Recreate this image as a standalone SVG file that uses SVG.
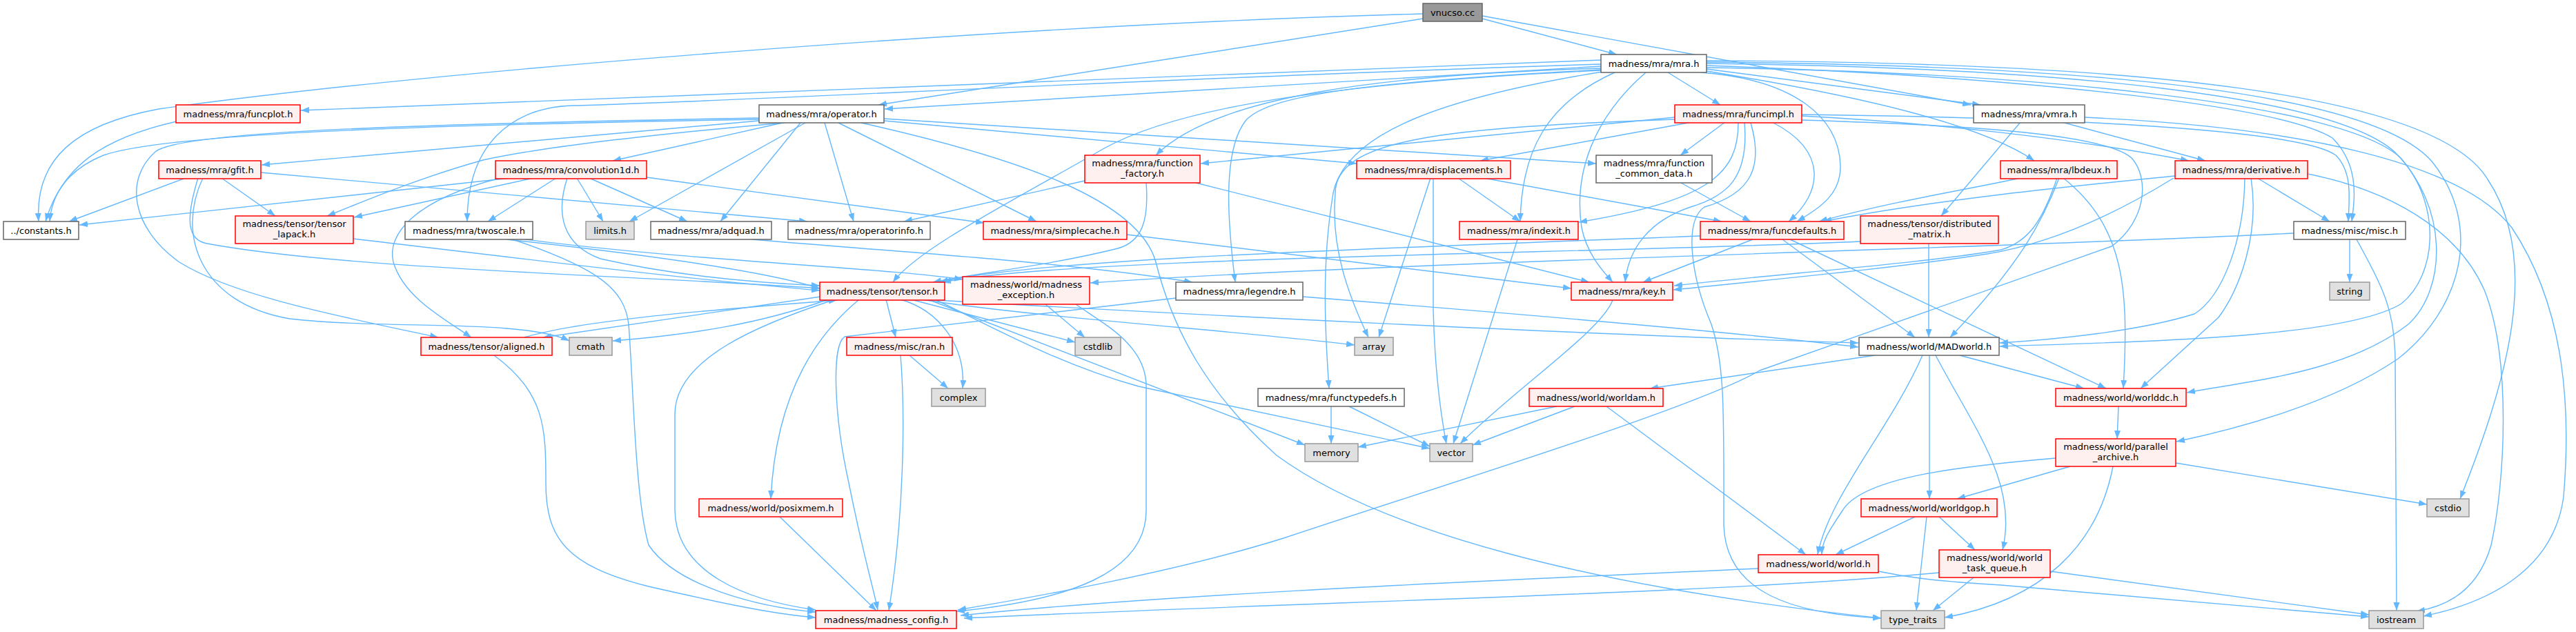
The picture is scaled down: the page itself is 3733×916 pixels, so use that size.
<svg xmlns="http://www.w3.org/2000/svg" width="3733" height="916" viewBox="0 0 3733 916">
<defs>
<marker id="a" viewBox="0 0 12 9" refX="12" refY="4.5" markerWidth="12" markerHeight="9" markerUnits="userSpaceOnUse" orient="auto"><path d="M0,0L12,4.5L0,9z" fill="#63b8ff"/></marker>
<style>
.e path{fill:none;stroke:#63b8ff;stroke-width:1.4;marker-end:url(#a)}
rect{stroke-width:1.5}
.r rect{fill:#fff0f0;stroke:#ff0000}
.w rect{fill:#ffffff;stroke:#666666}
.g rect{fill:#e0e0e0;stroke:#999999}
.root rect{fill:#999999;stroke:#666666}
text{font-family:"DejaVu Sans","Liberation Sans",sans-serif;font-size:13px;text-anchor:middle;fill:#000}
</style>
</defs>
<rect width="3733" height="916" fill="#ffffff" stroke="none"/>
<g id="edges" class="e">
<path d="M2148,27 L2343,79"/>
<path d="M2148,23 L2856,152"/>
<path d="M2062,27 L1273,152"/>
<path d="M2062,20 C1500,35 640,100 230,158 C110,180 50,230 56,321"/>
<path d="M2320,87 L436,160"/>
<path d="M2320,96 L1282,158"/>
<path d="M2320,93 C1700,112 1050,148 830,153 C740,156 677,210 677,321"/>
<path d="M2320,99 C2000,108 1760,140 1675,225"/>
<path d="M2320,102 C1900,122 1700,160 1600,215 C1470,290 1330,360 1294,409"/>
<path d="M2320,101 C2000,118 1840,135 1805,175 C1770,220 1780,330 1790,409"/>
<path d="M2322,104 C2100,140 1950,190 1932,280 C1915,380 1920,480 1926,563"/>
<path d="M2340,105 C2240,150 2205,220 2203,321"/>
<path d="M2385,105 C2310,170 2280,250 2292,330 C2300,370 2325,395 2337,409"/>
<path d="M2417,105 L2493,152"/>
<path d="M2465,105 C2600,115 2665,170 2667,240 C2668,280 2640,300 2604,321"/>
<path d="M2473,100 L2870,152"/>
<path d="M2473,103 C2700,140 2870,180 2948,233"/>
<path d="M2473,95 C2900,110 3300,150 3380,200 C3420,240 3412,290 3408,321"/>
<path d="M2473,92 C3000,98 3380,140 3470,220 C3550,300 3545,420 3490,470 C3400,540 3260,552 3169,569"/>
<path d="M2473,90 C3050,95 3440,135 3525,235 C3600,330 3565,450 3475,520 C3380,585 3240,622 3154,640"/>
<path d="M2473,88 C3100,90 3530,135 3605,260 C3685,380 3630,560 3565,723"/>
<path d="M2473,98 C2950,105 3400,150 3480,230 C3540,300 3530,400 3480,440 C3400,490 3100,495 2898,502"/>
<path d="M256,176 C150,200 90,240 66,321"/>
<path d="M1100,173 C700,180 250,190 150,225 C100,245 75,280 72,321"/>
<path d="M1100,175 L379,239"/>
<path d="M1134,178 L888,233"/>
<path d="M1137,178 C1000,190 800,210 700,232 C600,260 520,295 474,313"/>
<path d="M1100,171 C600,180 260,190 225,220 C180,260 190,330 260,380 C340,430 500,460 635,489"/>
<path d="M1167,178 L912,321"/>
<path d="M1160,178 L1044,321"/>
<path d="M1195,178 L1237,321"/>
<path d="M1215,178 L1502,321"/>
<path d="M1281,172 L2313,237"/>
<path d="M1281,175 L1966,237"/>
<path d="M1248,178 C1480,230 1650,290 1675,380 C1700,480 1750,570 1850,660 C2000,770 2300,850 2726,896"/>
<path d="M269,258 L100,321"/>
<path d="M321,258 L399,313"/>
<path d="M294,258 C255,340 290,440 420,462 C560,478 760,462 825,494"/>
<path d="M287,258 C268,320 272,348 300,353 C500,390 900,398 1188,418"/>
<path d="M378,250 L1170,321"/>
<path d="M740,258 L115,326"/>
<path d="M773,258 L513,315"/>
<path d="M806,258 L707,321"/>
<path d="M725,258 C600,290 560,340 570,380 C585,430 640,460 683,489"/>
<path d="M822,258 C805,310 815,355 870,375 C980,400 1100,410 1188,414"/>
<path d="M836,258 L874,321"/>
<path d="M854,258 L996,321"/>
<path d="M937,257 L1426,323"/>
<path d="M743,347 C870,390 905,420 911,470 C918,560 920,720 940,790 C980,850 1100,880 1182,887"/>
<path d="M734,347 C900,365 1100,390 1188,418"/>
<path d="M761,347 C1000,378 1280,388 1395,405"/>
<path d="M1089,347 C1300,365 1550,380 1728,409"/>
<path d="M1633,340 L2277,418"/>
<path d="M512,346 C800,380 1000,405 1188,421"/>
<path d="M1572,262 L1310,321"/>
<path d="M1661,265 C1665,320 1655,350 1620,360 C1520,385 1420,395 1352,409"/>
<path d="M1733,265 L2303,409"/>
<path d="M2427,170 L1740,237"/>
<path d="M2452,177 L2145,233"/>
<path d="M2500,177 L2435,225"/>
<path d="M2519,178 C2519,250 2480,290 2288,322"/>
<path d="M2528,178 C2535,260 2500,285 2450,300 C2390,320 2360,360 2355,409"/>
<path d="M2537,178 C2555,240 2540,280 2470,300 C2440,320 2450,400 2480,470 C2500,530 2498,600 2498,760 C2500,860 2600,890 2726,896"/>
<path d="M2570,178 C2650,220 2640,280 2592,321"/>
<path d="M2427,173 C2100,185 1935,200 1935,280 C1928,360 1955,430 1983,489"/>
<path d="M2611,168 C2800,178 3000,200 3172,233"/>
<path d="M2611,174 C2800,180 3050,190 3090,230 C3115,260 3110,320 3060,357 L2550,537 C2460,590 2100,700 1860,780 C1700,830 1500,865 1388,884"/>
<path d="M2611,166 C2950,170 3330,185 3385,225 C3410,250 3404,290 3403,321"/>
<path d="M2113,258 L2203,321"/>
<path d="M2150,258 L2495,321"/>
<path d="M2073,258 L1998,489"/>
<path d="M2077,258 L2077,450 Q2080,560 2096,643"/>
<path d="M2436,265 L2537,321"/>
<path d="M2199,347 L2106,643"/>
<path d="M2540,347 L2381,409"/>
<path d="M2583,347 L2775,489"/>
<path d="M2594,347 L3052,563"/>
<path d="M2464,342 C2000,360 1500,375 1362,409"/>
<path d="M2337,435 C2320,480 2200,560 2116,643"/>
<path d="M1888,430 C2200,455 2500,480 2693,503"/>
<path d="M1704,432 L1224,488 C1205,500 1208,600 1230,700 C1250,800 1265,850 1272,884"/>
<path d="M1189,430 L787,489"/>
<path d="M1200,434 C1100,470 1000,485 888,494"/>
<path d="M1210,434 C1100,470 978,520 978,600 L978,740 C980,830 1080,870 1182,884"/>
<path d="M1245,434 C1190,480 1125,560 1117,723"/>
<path d="M1284,434 L1298,489"/>
<path d="M1305,434 C1360,450 1400,500 1395,563"/>
<path d="M1320,434 L1558,496"/>
<path d="M1345,434 L1891,645"/>
<path d="M1355,434 C1450,480 1540,530 1650,560 L2072,650"/>
<path d="M1335,434 C1500,460 1800,480 1963,500"/>
<path d="M1340,434 C1700,455 2300,485 2693,497"/>
<path d="M716,515 C790,570 791,620 791,700 C791,780 820,820 940,850 C1050,875 1120,890 1182,895"/>
<path d="M760,489 C850,462 1050,448 1213,435"/>
<path d="M1318,515 L1374,563"/>
<path d="M1305,515 C1312,600 1310,750 1288,885"/>
<path d="M1130,749 L1270,885"/>
<path d="M1515,441 L1572,489"/>
<path d="M1559,441 C1600,470 1661,500 1661,560 L1661,740 C1661,830 1550,870 1386,886"/>
<path d="M1929,589 L1929,643"/>
<path d="M1955,589 L2072,647"/>
<path d="M2256,589 L1968,648"/>
<path d="M2282,589 L2134,645"/>
<path d="M2328,589 L2617,804"/>
<path d="M2717,515 L2391,563"/>
<path d="M2786,515 C2740,620 2650,720 2634,804"/>
<path d="M2796,515 L2796,723"/>
<path d="M2805,515 C2860,620 2925,700 2902,797"/>
<path d="M2840,515 L3020,563"/>
<path d="M3070,589 L3068,636"/>
<path d="M3000,676 L2836,723"/>
<path d="M3153,671 L3517,731"/>
<path d="M3062,676 C3040,790 2960,870 2818,895"/>
<path d="M2979,664 C2850,675 2700,690 2670,740 C2650,770 2640,785 2640,804"/>
<path d="M2775,749 L2660,804"/>
<path d="M2810,749 L2862,797"/>
<path d="M2792,749 L2777,885"/>
<path d="M2548,824 C2200,840 1700,860 1392,892"/>
<path d="M2722,828 C2760,836 2800,842 2900,848 L3433,894"/>
<path d="M2810,830 C2500,860 1900,872 1397,896"/>
<path d="M2860,837 L2801,885"/>
<path d="M2971,828 L3433,891"/>
<path d="M3405,347 L3405,409"/>
<path d="M3415,347 C3455,420 3470,450 3471,520 L3473,885"/>
<path d="M3324,338 C2900,360 2000,380 1580,410"/>
<path d="M2795,353 L2795,489"/>
<path d="M2696,350 C2300,368 1550,372 1366,409"/>
<path d="M2928,177 L2813,313"/>
<path d="M2988,177 L3196,233"/>
<path d="M3021,170 C3350,185 3570,240 3640,330 C3720,450 3725,600 3715,720 C3700,830 3600,875 3512,893"/>
<path d="M2928,258 C2850,275 2750,290 2636,321"/>
<path d="M2984,258 C2960,320 2930,380 2826,489"/>
<path d="M2990,258 C3080,330 3085,420 3077,563"/>
<path d="M2981,258 C2960,320 2940,350 2900,362 C2800,380 2600,395 2426,414"/>
<path d="M3271,258 L3376,321"/>
<path d="M3152,255 C3000,270 2800,290 2642,321"/>
<path d="M3150,258 C3050,320 2960,355 2880,368 C2750,388 2600,402 2425,420"/>
<path d="M3253,258 C3252,350 3220,430 3180,455 C3100,480 2980,492 2898,497"/>
<path d="M3262,258 C3275,340 3245,420 3215,460 L3102,563"/>
<path d="M3344,252 C3460,275 3560,330 3600,420 C3640,520 3630,700 3610,790 C3590,860 3540,880 3502,886"/>
</g>
<g id="vnucso" class="root"><rect x="2062" y="5" width="86" height="26"/><text x="2105" y="22.5">vnucso.cc</text></g>
<g id="mra" class="w"><rect x="2320" y="79" width="153" height="26"/><text x="2396.5" y="96.5">madness/mra/mra.h</text></g>
<g id="funcplot" class="r"><rect x="255" y="152" width="180" height="26"/><text x="345" y="169.5">madness/mra/funcplot.h</text></g>
<g id="operator" class="w"><rect x="1100" y="152" width="181" height="26"/><text x="1190.5" y="169.5">madness/mra/operator.h</text></g>
<g id="funcimpl" class="r"><rect x="2427" y="152" width="184" height="26"/><text x="2519" y="169.5">madness/mra/funcimpl.h</text></g>
<g id="vmra" class="w"><rect x="2860" y="152" width="161" height="26"/><text x="2940.5" y="169.5">madness/mra/vmra.h</text></g>
<g id="gfit" class="r"><rect x="230" y="233" width="148" height="26"/><text x="304" y="250.5">madness/mra/gfit.h</text></g>
<g id="convolution1d" class="r"><rect x="718" y="233" width="219" height="26"/><text x="827.5" y="250.5">madness/mra/convolution1d.h</text></g>
<g id="function_factory" class="r"><rect x="1572" y="225" width="167" height="40"/><text x="1655.5" y="241">madness/mra/function</text><text x="1655.5" y="256">_factory.h</text></g>
<g id="displacements" class="r"><rect x="1966" y="233" width="223" height="26"/><text x="2077.5" y="250.5">madness/mra/displacements.h</text></g>
<g id="function_common_data" class="w"><rect x="2313" y="225" width="168" height="40"/><text x="2397" y="241">madness/mra/function</text><text x="2397" y="256">_common_data.h</text></g>
<g id="lbdeux" class="r"><rect x="2899" y="233" width="169" height="26"/><text x="2983.5" y="250.5">madness/mra/lbdeux.h</text></g>
<g id="derivative" class="r"><rect x="3152" y="233" width="192" height="26"/><text x="3248" y="250.5">madness/mra/derivative.h</text></g>
<g id="constants" class="w"><rect x="5" y="321" width="109" height="26"/><text x="59.5" y="338.5">../constants.h</text></g>
<g id="tensor_lapack" class="r"><rect x="341" y="313" width="171" height="40"/><text x="426.5" y="329">madness/tensor/tensor</text><text x="426.5" y="344">_lapack.h</text></g>
<g id="twoscale" class="w"><rect x="587" y="321" width="185" height="26"/><text x="679.5" y="338.5">madness/mra/twoscale.h</text></g>
<g id="limits" class="g"><rect x="849" y="321" width="70" height="26"/><text x="884" y="338.5">limits.h</text></g>
<g id="adquad" class="w"><rect x="943" y="321" width="175" height="26"/><text x="1030.5" y="338.5">madness/mra/adquad.h</text></g>
<g id="operatorinfo" class="w"><rect x="1142" y="321" width="206" height="26"/><text x="1245" y="338.5">madness/mra/operatorinfo.h</text></g>
<g id="simplecache" class="r"><rect x="1425" y="321" width="208" height="26"/><text x="1529" y="338.5">madness/mra/simplecache.h</text></g>
<g id="indexit" class="r"><rect x="2115" y="321" width="172" height="26"/><text x="2201" y="338.5">madness/mra/indexit.h</text></g>
<g id="funcdefaults" class="r"><rect x="2464" y="321" width="208" height="26"/><text x="2568" y="338.5">madness/mra/funcdefaults.h</text></g>
<g id="distributed_matrix" class="r"><rect x="2696" y="313" width="200" height="40"/><text x="2796" y="329">madness/tensor/distributed</text><text x="2796" y="344">_matrix.h</text></g>
<g id="misc" class="w"><rect x="3324" y="321" width="162" height="26"/><text x="3405" y="338.5">madness/misc/misc.h</text></g>
<g id="tensor" class="r"><rect x="1188" y="409" width="181" height="26"/><text x="1278.5" y="426.5">madness/tensor/tensor.h</text></g>
<g id="madness_exception" class="r"><rect x="1395" y="401" width="184" height="40"/><text x="1487" y="417">madness/world/madness</text><text x="1487" y="432">_exception.h</text></g>
<g id="legendre" class="w"><rect x="1704" y="409" width="184" height="26"/><text x="1796" y="426.5">madness/mra/legendre.h</text></g>
<g id="key" class="r"><rect x="2277" y="409" width="147" height="26"/><text x="2350.5" y="426.5">madness/mra/key.h</text></g>
<g id="string" class="g"><rect x="3376" y="409" width="58" height="26"/><text x="3405" y="426.5">string</text></g>
<g id="aligned" class="r"><rect x="610" y="489" width="190" height="26"/><text x="705" y="506.5">madness/tensor/aligned.h</text></g>
<g id="cmath" class="g"><rect x="825" y="489" width="62" height="26"/><text x="856" y="506.5">cmath</text></g>
<g id="ran" class="r"><rect x="1227" y="489" width="153" height="26"/><text x="1303.5" y="506.5">madness/misc/ran.h</text></g>
<g id="cstdlib" class="g"><rect x="1558" y="489" width="66" height="26"/><text x="1591" y="506.5">cstdlib</text></g>
<g id="array" class="g"><rect x="1963" y="489" width="56" height="26"/><text x="1991" y="506.5">array</text></g>
<g id="MADworld" class="w"><rect x="2694" y="489" width="203" height="26"/><text x="2795.5" y="506.5">madness/world/MADworld.h</text></g>
<g id="complex" class="g"><rect x="1350" y="563" width="78" height="26"/><text x="1389" y="580.5">complex</text></g>
<g id="functypedefs" class="w"><rect x="1823" y="563" width="212" height="26"/><text x="1929" y="580.5">madness/mra/functypedefs.h</text></g>
<g id="worldam" class="r"><rect x="2216" y="563" width="194" height="26"/><text x="2313" y="580.5">madness/world/worldam.h</text></g>
<g id="worlddc" class="r"><rect x="2979" y="563" width="189" height="26"/><text x="3073.5" y="580.5">madness/world/worlddc.h</text></g>
<g id="parallel_archive" class="r"><rect x="2979" y="636" width="174" height="40"/><text x="3066" y="652">madness/world/parallel</text><text x="3066" y="667">_archive.h</text></g>
<g id="memory" class="g"><rect x="1891" y="643" width="77" height="26"/><text x="1929.5" y="660.5">memory</text></g>
<g id="vector" class="g"><rect x="2072" y="643" width="62" height="26"/><text x="2103" y="660.5">vector</text></g>
<g id="posixmem" class="r"><rect x="1013" y="723" width="208" height="26"/><text x="1117" y="740.5">madness/world/posixmem.h</text></g>
<g id="worldgop" class="r"><rect x="2697" y="723" width="197" height="26"/><text x="2795.5" y="740.5">madness/world/worldgop.h</text></g>
<g id="cstdio" class="g"><rect x="3517" y="723" width="61" height="26"/><text x="3547.5" y="740.5">cstdio</text></g>
<g id="world" class="r"><rect x="2548" y="804" width="174" height="26"/><text x="2635" y="821.5">madness/world/world.h</text></g>
<g id="world_task_queue" class="r"><rect x="2810" y="797" width="161" height="40"/><text x="2890.5" y="813">madness/world/world</text><text x="2890.5" y="828">_task_queue.h</text></g>
<g id="madness_config" class="r"><rect x="1182" y="885" width="204" height="26"/><text x="1284" y="902.5">madness/madness_config.h</text></g>
<g id="type_traits" class="g"><rect x="2726" y="885" width="92" height="26"/><text x="2772" y="902.5">type_traits</text></g>
<g id="iostream" class="g"><rect x="3433" y="885" width="79" height="26"/><text x="3472.5" y="902.5">iostream</text></g>
</svg>
